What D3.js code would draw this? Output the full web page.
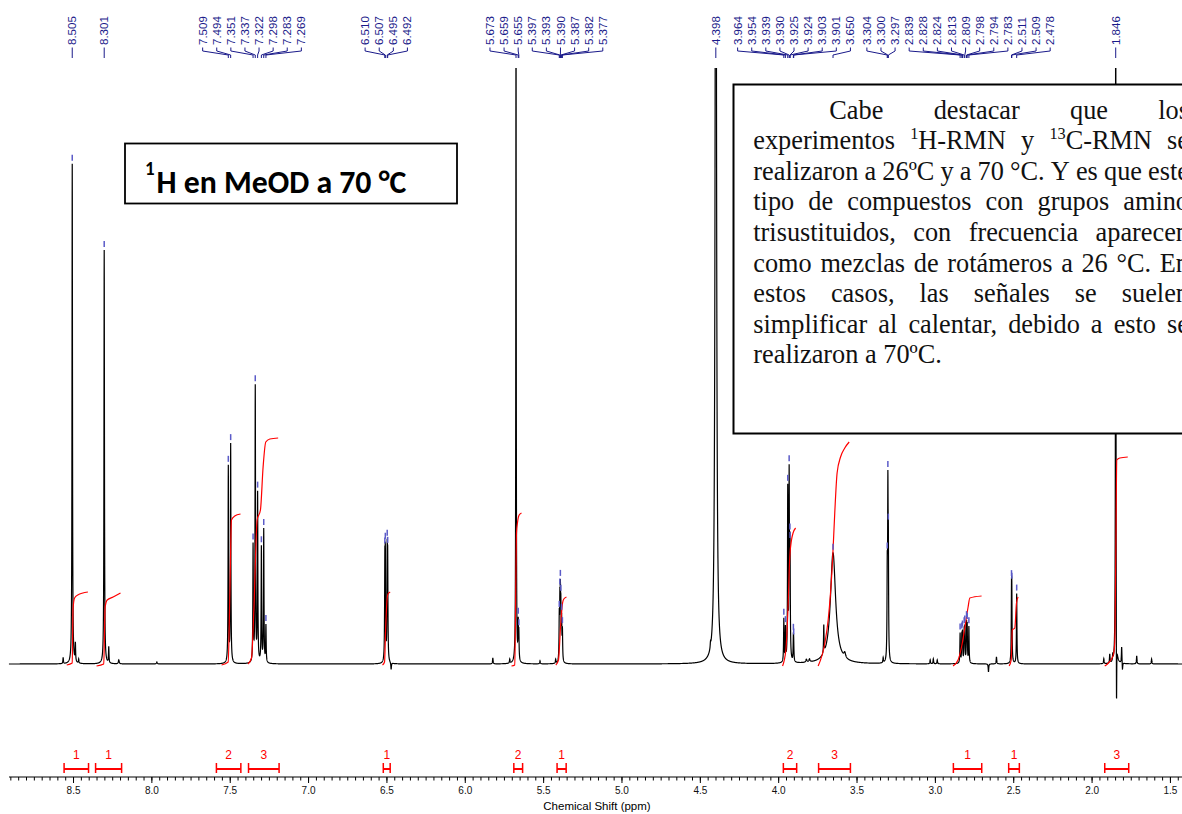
<!DOCTYPE html>
<html>
<head>
<meta charset="utf-8">
<script src="https://cdn.jsdelivr.net/npm/d3@7"></script>
<style>
body { margin: 0; background: #fff; }
svg { display: block; }
</style>
</head>
<body>
<div id="spectrum"></div>
<script>
// peak list: shift (ppm), height (baseline = 0), half width (ppm)
let peakPpm = [8.563, 8.505, 8.485, 8.464, 8.301, 8.272, 8.208, 7.965,
    7.509, 7.494, 7.351, 7.337, 7.322, 7.298, 7.283, 7.269,
    6.510, 6.507, 6.495, 6.492, 6.470, 5.821, 5.713, 5.520, 5.420,
    5.673, 5.659, 5.655, 5.397, 5.393, 5.390, 5.387, 5.382, 5.377,
    4.432, 4.398,
    3.964, 3.954, 3.939, 3.930, 3.925, 3.924, 3.903, 3.901, 3.820, 3.800,
    3.709, 3.650, 3.575, 3.330, 3.304, 3.300, 3.297, 3.030, 3.010, 2.985,
    2.839, 2.828, 2.824, 2.813, 2.809, 2.798, 2.794, 2.783, 2.658, 2.607,
    2.511, 2.509, 2.478,
    1.922, 1.884, 1.865, 1.846, 1.841, 1.808, 1.803, 1.712, 1.617];
let peakHeight = [6, 500, 18, 4, 414, 16, 4, 2,
    196, 218, 116, 275, 168, 115, 133, 37,
    90, 95, 98, 90, -7, 6, 4, 3, 4,
    700, 35, 25, 40, 50, 55, 45, 38, 30,
    5, 1200,
    43, 33, 170, 180, 65, 55, 22, 14, 3, 3,
    28, 111, 5, 5, 80, 155, 95, 4, 5, 4,
    30, 26, 28, 30, 32, 36, 34, 36, -8, 7,
    60, 55, 70,
    5, 9, 6, 800, -100, 17, -8, 8, 5];
let peakWidth = [0.0018, 0.0018, 0.0018, 0.0018, 0.0018, 0.0018, 0.003, 0.003,
    0.0018, 0.0018, 0.0018, 0.0018, 0.0018, 0.0018, 0.0018, 0.0018,
    0.0018, 0.0018, 0.0018, 0.0018, 0.002, 0.002, 0.002, 0.002, 0.002,
    0.0015, 0.0018, 0.0018, 0.0018, 0.0018, 0.0018, 0.0018, 0.0018, 0.0018,
    0.002, 0.0042,
    0.0018, 0.0018, 0.0018, 0.0018, 0.0018, 0.0018, 0.0018, 0.0018, 0.004, 0.004,
    0.0018, 0.02, 0.006, 0.002, 0.0018, 0.0018, 0.0018, 0.002, 0.002, 0.002,
    0.0018, 0.0018, 0.0018, 0.0018, 0.0018, 0.0018, 0.0018, 0.0018, 0.002, 0.002,
    0.0018, 0.0018, 0.0018,
    0.002, 0.002, 0.002, 0.0015, 0.0015, 0.002, 0.002, 0.002, 0.002];

let peakLabels = ["8.505", "8.301",
    "7.509", "7.494", "7.351", "7.337", "7.322", "7.298", "7.283", "7.269",
    "6.510", "6.507", "6.495", "6.492",
    "5.673", "5.659", "5.655",
    "5.397", "5.393", "5.390", "5.387", "5.382", "5.377",
    "4.398",
    "3.964", "3.954", "3.939", "3.930", "3.925", "3.924", "3.903", "3.901", "3.650",
    "3.304", "3.300", "3.297",
    "2.839", "2.828", "2.824", "2.813", "2.809", "2.798", "2.794", "2.783",
    "2.511", "2.509", "2.478",
    "1.846"];

// integration regions (ppm from, ppm to) and their values
let integralRanges = [[8.557, 8.401], [8.356, 8.190], [7.585, 7.429], [7.380, 7.185],
    [6.520, 6.476], [5.687, 5.631], [5.411, 5.353], [3.967, 3.882],
    [3.742, 3.539], [2.882, 2.701], [2.529, 2.461], [1.916, 1.763]];
let integralValues = ["1", "1", "2", "3", "1", "2", "1", "2", "3", "1", "1", "3"];

// red integral curves, [ppm, height]
let integralCurves = [
    [[8.540, -1], [8.505, 1], [8.500, 55], [8.490, 66], [8.470, 69], [8.405, 72]],
    [[8.350, -2], [8.304, 0], [8.295, 57], [8.282, 64], [8.244, 67], [8.197, 71]],
    [[7.552, -1], [7.510, 2], [7.499, 71], [7.489, 144], [7.468, 148], [7.431, 150]],
    [[7.383, 0], [7.361, 6], [7.346, 54], [7.325, 144], [7.304, 154], [7.287, 197], [7.270, 222], [7.244, 225], [7.191, 226]],
    [[6.525, -1], [6.512, 2], [6.505, 35], [6.498, 60], [6.490, 70], [6.476, 72]],
    [[5.702, -2], [5.681, -1], [5.674, 84], [5.670, 131], [5.663, 142], [5.653, 149], [5.638, 151]],
    [[5.419, -1], [5.402, 4], [5.389, 37], [5.376, 61], [5.368, 65], [5.351, 67]],
    [[3.972, -2], [3.951, 14], [3.937, 57], [3.926, 107], [3.915, 124], [3.905, 131], [3.889, 136]],
    [[3.745, -2], [3.702, 21], [3.681, 44], [3.666, 71], [3.653, 104], [3.639, 151], [3.624, 191], [3.602, 207], [3.575, 216], [3.547, 222]],
    [[2.884, -2], [2.852, 4], [2.830, 17], [2.809, 36], [2.788, 57], [2.777, 66], [2.702, 68]],
    [[2.526, -2], [2.513, 4], [2.506, 34], [2.490, 36], [2.479, 61], [2.469, 67]],
    [[1.916, -2], [1.863, 8], [1.852, 21], [1.846, 100], [1.839, 204], [1.820, 206], [1.769, 207]]
];

let majorTicks = [8.5, 8.0, 7.5, 7.0, 6.5, 6.0, 5.5, 5.0, 4.5, 4.0, 3.5, 3.0, 2.5, 2.0, 1.5];

let noteLines = [
    "Cabe destacar que los",
    "experimentos {1}H-RMN y {13}C-RMN se",
    "realizaron a 26ºC y a 70 °C. Y es que este",
    "tipo de compuestos con grupos amino",
    "trisustituidos, con frecuencia aparecen",
    "como mezclas de rotámeros a 26 °C. En",
    "estos casos, las señales se suelen",
    "simplificar al calentar, debido a esto se",
    "realizaron a 70ºC."
];


let width = 1182;
let height = 814;
let baseline = 664;
let plotTop = 68;
let axisY = 777;
let navy = "#1a1a8a";

let svg = d3.select("#spectrum")
    .append("svg")
    .attr("width", width)
    .attr("height", height);

let xScale = d3.scaleLinear()
    .domain([8.966, 1.423])
    .range([0, width]);

let yScale = d3.scaleLinear()
    .domain([0, baseline - plotTop])
    .range([baseline, plotTop]);

function intensity(p) {
    let s = 0;
    for (let i = 0; i < peakPpm.length; i++) {
        let d = (p - peakPpm[i]) / peakWidth[i];
        s += peakHeight[i] / (1 + d * d);
    }
    return s;
}

// spectrum trace
let trace = [];
for (let p = 8.909; p >= 1.423; p -= 0.0005) {
    trace.push([p, intensity(p)]);
}

svg.append("clipPath")
    .attr("id", "plotclip")
    .append("rect")
    .attr("x", 0)
    .attr("y", plotTop)
    .attr("width", width)
    .attr("height", height - plotTop);

let line = d3.line()
    .x(function(d) { return xScale(d[0]); })
    .y(function(d) { return yScale(d[1]); });

svg.append("path")
    .attr("clip-path", "url(#plotclip)")
    .attr("d", line(trace))
    .attr("fill", "none")
    .attr("stroke", "black")
    .attr("stroke-width", 1.2);

// integral curves
let intLine = d3.line()
    .x(function(d) { return xScale(d[0]); })
    .y(function(d) { return yScale(d[1]); })
    .curve(d3.curveMonotoneX);

svg.selectAll(".integral")
    .data(integralCurves)
    .enter()
    .append("path")
    .attr("class", "integral")
    .attr("d", function(d) { return intLine(d); })
    .attr("fill", "none")
    .attr("stroke", "#ff0000")
    .attr("stroke-width", 1.2);

// blue markers on top of picked peaks
svg.selectAll(".pick")
    .data(peakLabels.filter(function(l) { return yScale(intensity(+l)) > 80; }))
    .enter()
    .append("line")
    .attr("class", "pick")
    .attr("x1", function(d) { return xScale(+d); })
    .attr("x2", function(d) { return xScale(+d); })
    .attr("y1", function(d) { return yScale(intensity(+d)) - 9; })
    .attr("y2", function(d) { return yScale(intensity(+d)) - 3; })
    .attr("stroke", "#5b5bc8")
    .attr("stroke-width", 1.5);

// peak labels: spread apart so they do not overlap
let spacing = 14.1;
let ideal = peakLabels.map(function(l) { return xScale(+l); });
let clusters = ideal.map(function(x, i) { return { first: i, n: 1, start: x }; });
let merged = true;
while (merged) {
    merged = false;
    for (let i = 1; i < clusters.length; i++) {
        let a = clusters[i - 1], b = clusters[i];
        if (a.start + a.n * spacing > b.start) {
            let n = a.n + b.n;
            let sum = 0;
            for (let k = 0; k < n; k++) sum += ideal[a.first + k] - k * spacing;
            clusters.splice(i - 1, 2, { first: a.first, n: n, start: sum / n });
            merged = true;
            break;
        }
    }
}
let labelX = [];
for (let c of clusters) {
    for (let k = 0; k < c.n; k++) labelX.push(c.start + k * spacing);
}

let labelG = svg.append("g");
peakLabels.forEach(function(l, i) {
    let lx = labelX[i];
    let px = ideal[i];
    labelG.append("text")
        .attr("transform", "translate(" + lx + ",45) rotate(-90)")
        .attr("dy", "0.35em")
        .attr("text-anchor", "start")
        .style("font-family", "'Liberation Sans', Arial, sans-serif")
        .style("font-size", "11.5px")
        .attr("fill", navy)
        .text(l);
    labelG.append("path")
        .attr("d", "M" + lx + ",47.5 L" + lx + ",51 L" + px + ",55 L" + px + ",58")
        .attr("fill", "none")
        .attr("stroke", navy)
        .attr("stroke-width", 1);
});

// x axis
let minorTicks = d3.range(1.45, 8.95, 0.05).map(function(v) { return Math.round(v * 100) / 100; });

svg.append("g")
    .attr("transform", "translate(0," + axisY + ")")
    .call(d3.axisBottom(xScale).tickValues(minorTicks).tickSize(3.5).tickFormat(""))
    .call(function(g) { g.select(".domain").remove(); });

let xAxis = svg.append("g")
    .attr("transform", "translate(0," + axisY + ")")
    .call(d3.axisBottom(xScale).tickValues(majorTicks).tickSize(6).tickPadding(4)
        .tickFormat(d3.format(".1f")))
    .call(function(g) { g.select(".domain").remove(); });

xAxis.selectAll("text")
    .style("font-family", "'Liberation Sans', Arial, sans-serif")
    .style("font-size", "10px")
    .attr("fill", "#111");

svg.append("line")
    .attr("x1", 9)
    .attr("x2", width)
    .attr("y1", axisY)
    .attr("y2", axisY)
    .attr("stroke", "black")
    .attr("stroke-width", 1);

svg.append("text")
    .attr("text-anchor", "middle")
    .attr("x", 597)
    .attr("y", 810)
    .style("font-family", "'Liberation Sans', Arial, sans-serif")
    .style("font-size", "11.5px")
    .text("Chemical Shift (ppm)");

// integration brackets
let brackets = svg.selectAll(".bracket")
    .data(integralRanges)
    .enter()
    .append("g")
    .attr("class", "bracket");

brackets.append("line")
    .attr("x1", function(d) { return xScale(d[0]); })
    .attr("x2", function(d) { return xScale(d[1]); })
    .attr("y1", 769)
    .attr("y2", 769)
    .attr("stroke", "#ff0000")
    .attr("stroke-width", 2);

brackets.append("path")
    .attr("d", function(d) {
        let a = xScale(d[0]), b = xScale(d[1]);
        return "M" + a + ",763 V773 M" + b + ",763 V773";
    })
    .attr("stroke", "#ff0000")
    .attr("stroke-width", 1.5);

brackets.append("text")
    .attr("x", function(d) { return (xScale(d[0]) + xScale(d[1])) / 2; })
    .attr("y", 759)
    .attr("text-anchor", "middle")
    .style("font-family", "'Liberation Sans', Arial, sans-serif")
    .style("font-size", "12px")
    .attr("fill", "#ff0000")
    .text(function(d, i) { return integralValues[i]; });

// title box
svg.append("rect")
    .attr("x", 125)
    .attr("y", 143.5)
    .attr("width", 332)
    .attr("height", 60)
    .attr("fill", "white")
    .attr("stroke", "black")
    .attr("stroke-width", 1.8);

let titleFont = "Carlito, Lato, 'Open Sans', sans-serif";
let titleMain = svg.append("text")
    .attr("x", 156.5)
    .attr("y", 193)
    .style("font-family", titleFont)
    .style("font-weight", "bold")
    .style("font-size", "32px")
    .text("H en MeOD a 70 °C");
let tw = titleMain.node().getComputedTextLength();
let titleSize = 32 * 250 / tw;
titleMain.style("font-size", titleSize + "px");

svg.append("text")
    .attr("x", 145)
    .attr("y", 175)
    .style("font-family", titleFont)
    .style("font-weight", "bold")
    .style("font-size", (titleSize * 0.6) + "px")
    .text("1");

// note box, justified like the original paragraph
svg.append("rect")
    .attr("x", 733.5)
    .attr("y", 84.5)
    .attr("width", 520)
    .attr("height", 349)
    .attr("fill", "white")
    .attr("stroke", "black")
    .attr("stroke-width", 2);

let noteFont = "'Liberation Serif', 'Times New Roman', serif";
let noteSize = 26.3;
let noteLeft = 753.3;
let noteIndent = 829.3;
let noteRight = 1189;

function addWord(g, word, x, y) {
    let t = g.append("text")
        .attr("x", x)
        .attr("y", y)
        .style("font-family", noteFont)
        .style("font-size", noteSize + "px")
        .attr("fill", "#111");
    let parts = word.split(/(\{\d+\})/).filter(function(s) { return s.length > 0; });
    let raised = false;
    parts.forEach(function(p) {
        let m = p.match(/^\{(\d+)\}$/);
        if (m) {
            t.append("tspan")
                .attr("dy", raised ? 0 : -10)
                .style("font-size", (noteSize * 0.62) + "px")
                .text(m[1]);
            raised = true;
        } else {
            t.append("tspan")
                .attr("dy", raised ? 10 : 0)
                .text(p);
            raised = false;
        }
    });
    return t;
}

let noteG = svg.append("g");
noteLines.forEach(function(ln, i) {
    let y = 118.5 + i * 30.6;
    let words = ln.split(" ");
    let start = i === 0 ? noteIndent : noteLeft;
    let els = words.map(function(w) { return addWord(noteG, w, start, y); });
    let widths = els.map(function(e) { return e.node().getComputedTextLength(); });
    let total = d3.sum(widths);
    let gap;
    if (i === noteLines.length - 1 || words.length < 2) {
        gap = noteSize * 0.25;
    } else {
        gap = (noteRight - start - total) / (words.length - 1);
    }
    let cx = start;
    els.forEach(function(e, k) {
        e.attr("x", cx);
        cx += widths[k] + gap;
    });
});
</script>
</body>
</html>
